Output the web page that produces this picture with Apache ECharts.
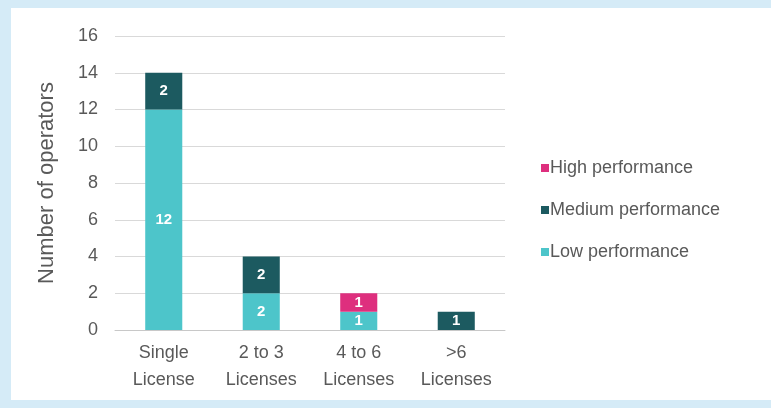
<!DOCTYPE html>
<html>
<head>
<meta charset="utf-8">
<script src="https://cdn.jsdelivr.net/npm/echarts@6/dist/echarts.min.js"></script>
<style>
html,body{margin:0;padding:0;width:771px;height:408px;background:#d5ebf7;overflow:hidden;}
#panel{position:absolute;left:11px;top:8px;width:760px;height:392px;background:#ffffff;}
#chart{position:absolute;left:0;top:0;width:771px;height:408px;}
</style>
</head>
<body>
<div id="panel"></div>
<div id="chart"></div>
<script>
const categories = ['Single\nLicense', '2 to 3\nLicenses', '4 to 6\nLicenses', '>6\nLicenses'];
const lowPerformance = [12, 2, 1, 0];
const mediumPerformance = [2, 2, 0, 1];
const highPerformance = [0, 0, 1, 0];
const yTicks = [0, 2, 4, 6, 8, 10, 12, 14, 16];

const FONT = 'Liberation Sans, Arial, sans-serif';
const chart = echarts.init(document.getElementById('chart'), null, {renderer: 'canvas'});
const labelCfg = {
  show: true, position: 'inside', color: '#ffffff', fontWeight: 'bold',
  fontFamily: FONT, fontSize: 15,
  formatter: p => (p.value ? p.value : '')
};
function mk(name, data, color) {
  return {
    name: name, type: 'bar', stack: 'total', data: data, barWidth: '38%',
    itemStyle: {color: color}, label: labelCfg, emphasis: {disabled: true}
  };
}
chart.setOption({
  backgroundColor: 'transparent',
  animation: false,
  textStyle: {fontFamily: FONT},
  grid: {left: 115, right: 266, top: 36, bottom: 78},
  legend: {
    orient: 'vertical', left: 536, top: 154, itemWidth: 8, itemHeight: 8, itemGap: 24,
    icon: 'rect',
    data: ['High performance', 'Medium performance', 'Low performance'],
    textStyle: {color: '#595959', fontSize: 18, fontFamily: FONT, padding: [0, 0, 0, -4]}
  },
  xAxis: {
    type: 'category', data: categories,
    axisLine: {lineStyle: {color: '#c8c8c8'}},
    axisTick: {show: false},
    axisLabel: {color: '#595959', fontSize: 18, lineHeight: 27, margin: 10, interval: 0, fontFamily: FONT}
  },
  yAxis: {
    type: 'value', min: yTicks[0], max: yTicks[yTicks.length - 1], interval: 2,
    name: 'Number of operators', nameLocation: 'middle', nameGap: 57, nameRotate: 90,
    nameTextStyle: {color: '#595959', fontSize: 22, fontFamily: FONT},
    axisLine: {show: false}, axisTick: {show: false},
    axisLabel: {color: '#595959', fontSize: 18, margin: 17, fontFamily: FONT},
    splitLine: {lineStyle: {color: '#d9d9d9'}}
  },
  series: [
    mk('Low performance', lowPerformance, '#4dc5ca'),
    mk('Medium performance', mediumPerformance, '#1c5a60'),
    mk('High performance', highPerformance, '#de2f7e')
  ]
});
</script>
</body>
</html>
